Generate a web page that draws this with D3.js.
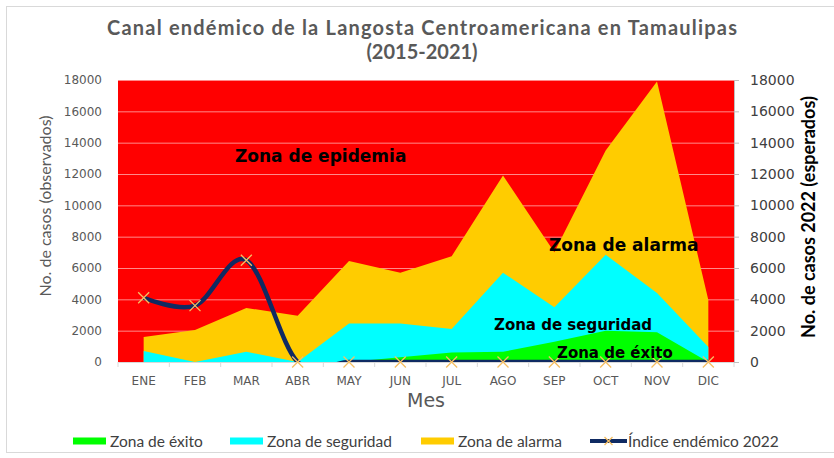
<!DOCTYPE html>
<html>
<head>
<meta charset="utf-8">
<script src="https://cdn.jsdelivr.net/npm/d3@7"></script>
<style>
  body { margin: 0; background: #fff; }
  svg { display: block; }
</style>
</head>
<body>
<svg id="graph"></svg>
<script>
var months = ["ENE", "FEB", "MAR", "ABR", "MAY", "JUN", "JUL", "AGO", "SEP", "OCT", "NOV", "DIC"];
var zonaExito = [0, 0, 0, 0, 0, 300, 600, 650, 1300, 2000, 1900, 0];
var zonaSeguridad = [700, 0, 650, 0, 2450, 2450, 2100, 5700, 3500, 6850, 4400, 950];
var zonaAlarma = [1600, 2050, 3450, 2950, 6450, 5700, 6750, 11900, 7000, 13500, 17900, 3950];
var indice2022 = [4100, 3600, 6500, 0, 0, 0, 0, 0, 0, 0, 0, 0];
var yTicks = [0, 2000, 4000, 6000, 8000, 10000, 12000, 14000, 16000, 18000];

var W = 834, H = 458,
	plot = {left: 118, right: 734, top: 80, bottom: 362},
	svg = d3.select("#graph").attr("width", W).attr("height", H);

svg.append("rect").attr("width", W).attr("height", H).attr("fill", "#fff");
svg.append("rect")
	.attr("x", 6.5).attr("y", 6.5).attr("width", W + 20).attr("height", 446)
	.attr("fill", "none").attr("stroke", "#d9d9d9");

var x = d3.scaleBand().domain(months).range([plot.left, plot.right]),
	cx = function(m) { return x(m) + x.bandwidth() / 2; },
	y = d3.scaleLinear().domain([0, 18000]).range([plot.bottom, plot.top]),
	yR = d3.scaleLinear().domain([0, 18000]).range([plot.bottom, plot.top]);

// red background = zona de epidemia
svg.append("rect")
	.attr("x", plot.left).attr("y", plot.top)
	.attr("width", plot.right - plot.left).attr("height", plot.bottom - plot.top)
	.attr("fill", "#ff0000");

// gridlines
svg.append("g").selectAll("line")
	.data(yTicks.slice(1))
	.enter().append("line")
		.attr("x1", plot.left).attr("x2", plot.right)
		.attr("y1", function(d) { return y(d) + 0.5; })
		.attr("y2", function(d) { return y(d) + 0.5; })
		.attr("stroke", "#ff8a8a").attr("stroke-width", 1);

// areas
var area = function(vals) {
	return d3.area()
		.x(function(d, i) { return cx(months[i]); })
		.y0(y(0))
		.y1(function(d) { return y(d); })(vals);
};
var zones = [
	{vals: zonaAlarma, color: "#ffcc00"},
	{vals: zonaSeguridad, color: "#00ffff"},
	{vals: zonaExito, color: "#00ff00"}
];
svg.append("g").selectAll("path")
	.data(zones)
	.enter().append("path")
		.attr("d", function(d) { return area(d.vals); })
		.attr("fill", function(d) { return d.color; });

// x axis
var xAxis = d3.axisBottom(x).tickSize(0).tickPadding(14);
var gx = svg.append("g")
	.attr("transform", "translate(0," + plot.bottom + ")")
	.call(xAxis);
gx.select(".domain").attr("stroke", "#d9d9d9");
gx.selectAll("text").attr("fill", "#595959").style("font", "12px 'DejaVu Sans'");
gx.append("g").selectAll("line")
	.data(months.concat(["_end"]))
	.enter().append("line")
		.attr("x1", function(d, i) { return plot.left + i * x.bandwidth(); })
		.attr("x2", function(d, i) { return plot.left + i * x.bandwidth(); })
		.attr("y1", 0).attr("y2", 5)
		.attr("stroke", "#d9d9d9");

// left axis (labels only)
var gy = svg.append("g")
	.attr("transform", "translate(" + plot.left + ",0)")
	.call(d3.axisLeft(y).tickValues(yTicks).tickFormat(d3.format("d")).tickSize(0).tickPadding(16));
gy.select(".domain").remove();
gy.selectAll("text").attr("fill", "#595959").style("font", "12px 'DejaVu Sans'");

// right axis
var gyR = svg.append("g")
	.attr("transform", "translate(" + plot.right + ",0)")
	.call(d3.axisRight(yR).tickValues(yTicks).tickFormat(d3.format("d")).tickSize(5).tickPadding(11));
gyR.select(".domain").attr("stroke", "#bfbfbf");
gyR.selectAll(".tick line").attr("stroke", "#bfbfbf");
gyR.selectAll("text").attr("fill", "#404040").style("font", "14px 'DejaVu Sans'");

// indice endemico line (clipped to plot)
svg.append("clipPath").attr("id", "clip")
	.append("rect")
		.attr("x", plot.left).attr("y", plot.top)
		.attr("width", plot.right - plot.left).attr("height", plot.bottom - plot.top);

var line = d3.line()
	.x(function(d, i) { return cx(months[i]); })
	.y(function(d) { return yR(d); })
	.curve(d3.curveCardinal.tension(0));

svg.append("path")
	.attr("clip-path", "url(#clip)")
	.attr("d", line(indice2022))
	.attr("fill", "none")
	.attr("stroke", "#0f2a62")
	.attr("stroke-width", 4.5);

var cross = function(sel, s) {
	sel.append("path")
		.attr("d", "M" + -s + "," + -s + "L" + s + "," + s + "M" + -s + "," + s + "L" + s + "," + -s)
		.attr("stroke", "#f6bf63")
		.attr("stroke-width", 1.3)
		.attr("fill", "none");
};
svg.append("g").selectAll("g")
	.data(indice2022)
	.enter().append("g")
		.attr("transform", function(d, i) { return "translate(" + cx(months[i]) + "," + yR(d) + ")"; })
		.call(cross, 5.5);

// zone labels
var zoneLabels = [
	{text: "Zona de epidemia", x: 235, y: 162, size: 17},
	{text: "Zona de alarma", x: 549, y: 251, size: 17},
	{text: "Zona de seguridad", x: 494, y: 330, size: 15},
	{text: "Zona de éxito", x: 557, y: 358, size: 15}
];
svg.append("g").selectAll("text")
	.data(zoneLabels)
	.enter().append("text")
		.attr("x", function(d) { return d.x; })
		.attr("y", function(d) { return d.y; })
		.style("font", function(d) { return "bold " + d.size + "px 'DejaVu Sans'"; })
		.attr("fill", "#000")
		.text(function(d) { return d.text; });

// titles
svg.append("text")
	.attr("x", 422).attr("y", 35)
	.attr("text-anchor", "middle")
	.attr("fill", "#595959")
	.attr("textLength", 630)
	.attr("lengthAdjust", "spacing")
	.style("font", "bold 20px Lato")
	.text("Canal endémico de la Langosta Centroamericana en Tamaulipas");
svg.append("text")
	.attr("x", 422).attr("y", 59)
	.attr("text-anchor", "middle")
	.attr("fill", "#595959")
	.style("font", "bold 20px Lato")
	.text("(2015-2021)");

svg.append("text")
	.attr("x", 426).attr("y", 407)
	.attr("text-anchor", "middle")
	.attr("fill", "#595959")
	.style("font", "19px 'DejaVu Sans'")
	.text("Mes");

svg.append("text")
	.attr("transform", "translate(51,206) rotate(-90)")
	.attr("text-anchor", "middle")
	.attr("fill", "#595959")
	.style("font", "16px Lato")
	.text("No. de casos (observados)");

svg.append("text")
	.attr("transform", "translate(815,217) rotate(-90)")
	.attr("text-anchor", "middle")
	.attr("fill", "#000")
	.style("font", "bold 18px Lato")
	.text("No. de casos 2022 (esperados)");

// legend
var legendItems = [
	{label: "Zona de éxito", color: "#00ff00", x: 73},
	{label: "Zona de seguridad", color: "#00ffff", x: 230},
	{label: "Zona de alarma", color: "#ffcc00", x: 421},
	{label: "Índice endémico 2022", color: "#0f2a62", x: 590, line: true}
];
var lg = svg.append("g").selectAll("g")
	.data(legendItems)
	.enter().append("g")
		.attr("transform", function(d) { return "translate(" + d.x + ",441)"; });
lg.filter(function(d) { return !d.line; }).append("rect")
	.attr("x", 0).attr("y", -3.5).attr("width", 33).attr("height", 7)
	.attr("fill", function(d) { return d.color; });
lg.filter(function(d) { return d.line; }).append("line")
	.attr("x1", 0).attr("x2", 37).attr("y1", 0).attr("y2", 0)
	.attr("stroke", function(d) { return d.color; }).attr("stroke-width", 4);
lg.filter(function(d) { return d.line; }).append("g")
	.attr("transform", "translate(18.5,0)")
	.call(cross, 4);
lg.append("text")
	.attr("x", function(d) { return d.line ? 38 : 37; })
	.attr("y", 5.5)
	.attr("fill", "#404040")
	.style("font", "15.5px Lato")
	.text(function(d) { return d.label; });
</script>
</body>
</html>
